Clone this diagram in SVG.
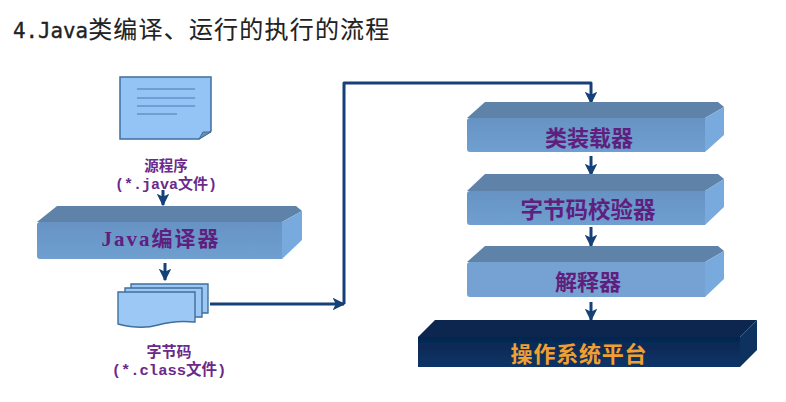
<svg xmlns="http://www.w3.org/2000/svg" width="786" height="402" viewBox="0 0 786 402">
<style>
.top{fill:#5f83a8}
.front{fill:url(#fg)}
.side{fill:#78aade}
.lbl{font-family:"Liberation Serif","Noto Sans CJK SC",serif;font-weight:700;fill:#5f1f7f;text-anchor:middle}
.cap{font-family:"Liberation Mono","Noto Sans CJK SC",monospace;font-weight:700;fill:#6a2a8a;text-anchor:middle}
.conn{fill:none;stroke:#123f78;stroke-width:3;stroke-linejoin:round}
.ln{stroke:#5f93c8;stroke-width:1.6}
.pg{fill:#9cc8f5;stroke:#3f6f9c;stroke-width:1.4}
</style>
<defs>
<linearGradient id="fg" x1="0" y1="0" x2="0" y2="1"><stop offset="0" stop-color="#6693c4"/><stop offset="1" stop-color="#6f9fd0"/></linearGradient>
<linearGradient id="pf" x1="0" y1="0" x2="0" y2="1"><stop offset="0" stop-color="#06264e"/><stop offset="1" stop-color="#0a3468"/></linearGradient>
<filter id="soft" x="-5%" y="-5%" width="110%" height="110%"><feGaussianBlur stdDeviation="0.7"/></filter>
<marker id="ah" viewBox="0 0 10 10" refX="9" refY="5" markerWidth="4.2" markerHeight="4.2" orient="auto"><path d="M0 0L10 5L0 10L2.5 5Z" fill="#123f78"/></marker>
</defs>
<rect width="786" height="402" fill="#fff"/>
<text id="title" x="13" y="38" font-family="'DejaVu Sans Mono','Noto Sans CJK SC',monospace" font-size="20.8" fill="#222" stroke="#222" stroke-width="0.35">4.Java<tspan font-family="'Noto Sans CJK SC',sans-serif" font-size="24" letter-spacing="1.2" stroke-width="0.1">类编译、运行的执行的流程</tspan></text>

<g id="connectors" filter="url(#soft)">
<path class="conn" d="M163 190V205" marker-end="url(#ah)"/>
<path class="conn" d="M165 263V280" marker-end="url(#ah)"/>
<path class="conn" d="M210 304H344" marker-end="url(#ah)"/>
<path class="conn" d="M344 304V83H591V103" marker-end="url(#ah)"/>
<path class="conn" d="M591 156V175" marker-end="url(#ah)"/>
<path class="conn" d="M591 227V246" marker-end="url(#ah)"/>
<path class="conn" d="M591 302V320" marker-end="url(#ah)"/>
</g>

<g id="source" filter="url(#soft)">
<path d="M120 77H211V131L199 139H120Z" fill="#94c4f6" stroke="#3f6f9c" stroke-width="1.5"/>
<path d="M199 139L203 132H211Z" fill="#6f8fa8" stroke="#3f6f9c"/>
<path class="ln" d="M137 89H195M137 98H195M137 106H195M137 114H177"/>
</g>
<g id="source-label">
<text class="cap" x="166" y="171" font-size="14.5">源程序</text>
<text class="cap" x="166" y="189" font-size="15">(*.java文件)</text>
</g>

<g id="compiler">
<g filter="url(#soft)"><path class="top" d="M37 222L57 206H296L302 211L282 222Z"/>
<path class="side" d="M282 222L302 211V240L282 259Z"/>
<path class="front" d="M40 222H282V259H40Q37 259 37 256V225Q37 222 40 222Z"/></g>
<text class="lbl" x="161" y="246" font-size="21" letter-spacing="2">Java编译器</text>
</g>

<g id="bytecode" filter="url(#soft)">
<path class="pg" d="M131 284H208V313H131Z"/>
<path class="pg" d="M125 288H202V317H125Z"/>
<path class="pg" d="M118 292H195V322Q175 320 158 325T118 324Z"/>
</g>
<g id="bytecode-label">
<text class="cap" x="169" y="357" font-size="15">字节码</text>
<text class="cap" x="169" y="375" font-size="15.5">(*.class文件)</text>
</g>

<g id="loader">
<g filter="url(#soft)"><path class="top" d="M467 118L485 102H718L724 107L705 118Z"/>
<path class="side" d="M705 118L724 107V135L705 152Z"/>
<path class="front" d="M470 118H705V152H470Q467 152 467 149V121Q467 118 470 118Z"/></g>
<text class="lbl" x="589" y="146" font-size="22">类装载器</text>
</g>

<g id="verifier">
<g filter="url(#soft)"><path class="top" d="M467 191L485 174H718L724 179L705 191Z"/>
<path class="side" d="M705 191L724 179V207L705 225Z"/>
<path class="front" d="M470 191H705V225H470Q467 225 467 222V194Q467 191 470 191Z"/></g>
<text class="lbl" x="588" y="218" font-size="22.5">字节码校验器</text>
</g>

<g id="interpreter">
<g filter="url(#soft)"><path class="top" d="M467 262L485 246H718L724 251L705 262Z"/>
<path class="side" d="M705 262L724 251V279L705 297Z"/>
<path class="front" d="M470 262H705V297H470Q467 297 467 294V265Q467 262 470 262Z" style="fill:#74a2d2"/></g>
<text class="lbl" x="588" y="290" font-size="22">解释器</text>
</g>

<g id="platform">
<g filter="url(#soft)"><path d="M418 337L435 320H757L740 337Z" fill="#07274f"/>
<path d="M740 337L757 320V350L740 367Z" fill="#0b3060"/>
<path d="M418 337H740V367H418Z" fill="url(#pf)"/></g>
<text class="lbl" x="579" y="362" font-size="22" letter-spacing="0.8" style="fill:#f0a030">操作系统平台</text>
</g>
</svg>
